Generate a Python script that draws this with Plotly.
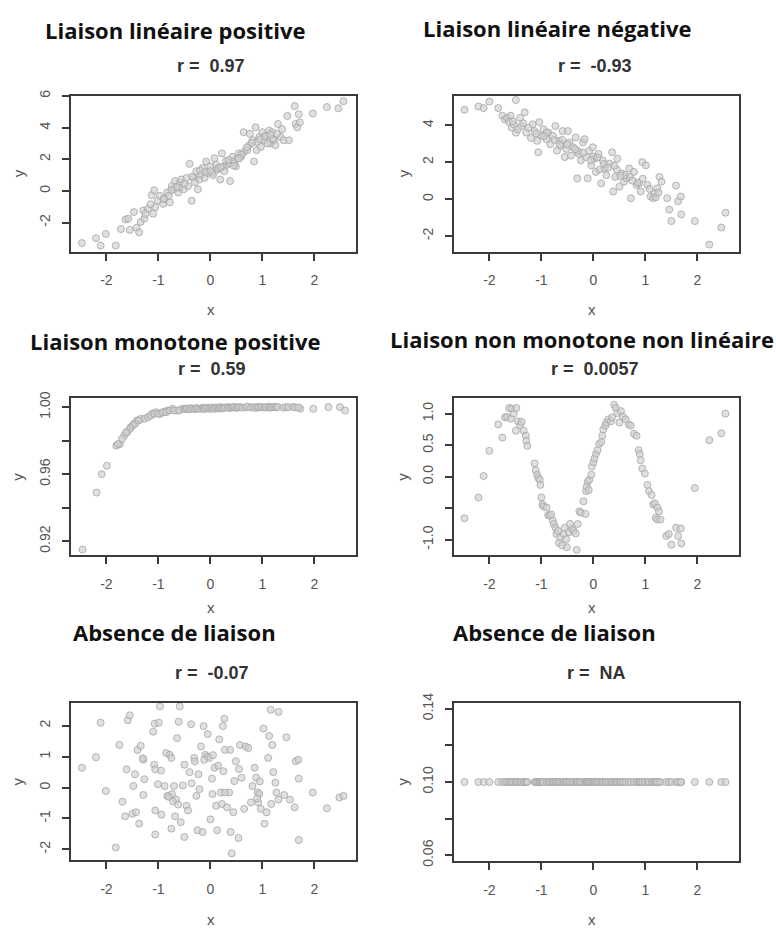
import plotly.graph_objects as go

W, H = 776, 934

# ---------------- data ----------------
# Panel 1 : Liaison linéaire positive
x1 = [-2.47, -2.20, -2.11, -2.01, -1.82, -1.72, -1.63, -1.58, -1.55, -1.47,
      -1.42, -1.37, -1.34, -1.29, -1.27, -1.20, -1.13, -1.08, -1.10, -1.06,
      -1.01, -0.97, -0.91, -0.88, -0.83, -0.78, -0.74, -0.70, -0.68, -0.62,
      -0.59, -0.56, -0.51, -0.46, -0.43, -0.40, -0.36, -0.32, -0.27, -0.24,
      -0.21, -0.18, -0.15, -0.11, -0.08, -0.05, 0.00, 0.04, 0.08, 0.11,
      0.14, 0.19, 0.22, 0.24, 0.27, 0.32, 0.36, 0.38, 0.43, 0.46,
      0.49, 0.52, 0.55, 0.59, 0.64, 0.65, 0.71, 0.76, 0.81, 0.84,
      0.87, 0.89, 0.94, 0.97, 1.00, 1.04, 1.08, 1.13, 1.16, 1.19,
      1.22, 1.25, 1.30, 1.35, 1.41, 1.48, 1.51, 1.62, 1.64, 1.67,
      1.70, 1.72, 1.97, 2.24, 2.46, 2.56, 0.30, 0.60, 0.75, -0.20,
      0.05, 1.10, 1.20, -0.60, -0.90, 0.90, 0.45, -0.35,
      -0.80, -0.65, -0.50, -0.30, -0.10, 0.15, 0.35, 0.55, 0.70, 0.80,
      0.95, 1.05, 1.15, 1.28, 1.38, -1.15, -1.25, -0.75, 0.00, 0.20]
y1 = [-3.30, -2.99, -3.46, -2.72, -3.46, -2.41, -1.81, -1.75, -2.47, -1.34,
      -2.33, -2.62, -1.96, -1.24, -1.75, -1.13, -0.27, 0.04, -1.44, -1.03,
      -0.62, -0.31, -0.82, -0.52, -0.10, -0.72, 0.31, 0.10, 0.62, -0.10,
      0.52, 0.72, 0.10, 0.82, 0.31, 1.71, -0.62, 0.82, 1.24, 0.10,
      0.72, 1.03, 1.44, 0.82, 1.86, 1.13, 1.55, 1.13, 2.06, 1.65,
      1.34, 0.72, 2.37, 1.51, 1.24, 1.65, 1.75, 0.62, 2.16, 1.86,
      1.55, 2.06, 2.37, 2.16, 3.71, 2.47, 2.58, 3.61, 3.20, 1.86,
      4.02, 2.58, 3.40, 2.78, 3.71, 3.20, 3.51, 3.81, 2.99, 3.71,
      3.20, 2.89, 4.23, 3.40, 3.20, 4.74, 3.20, 5.36, 4.23, 4.02,
      4.85, 4.33, 4.89, 5.30, 5.22, 5.67, 1.90, 2.30, 2.90, 1.30,
      1.00, 3.00, 3.30, 0.20, -0.50, 3.10, 1.60, 0.90,
      -0.30, 0.25, 0.45, 0.55, 1.20, 1.45, 1.95, 2.05, 2.75, 3.05,
      3.25, 3.45, 3.55, 3.60, 3.90, -0.85, -1.45, 0.05, 1.25, 1.50]

# Panel 2 : Liaison linéaire négative
x2 = [-2.48, -2.21, -2.11, -2.00, -1.83, -1.49, -1.75, -1.70, -1.66, -1.62,
      -1.59, -1.57, -1.53, -1.49, -1.45, -1.41, -1.38, -1.32, -1.29, -1.24,
      -1.17, -1.13, -1.08, -1.04, -1.06, -1.00, -0.96, -0.90, -0.87, -0.83,
      -0.78, -0.73, -0.70, -0.66, -0.62, -0.59, -0.55, -0.52, -0.49, -0.46,
      -0.43, -0.39, -0.34, -0.31, -0.28, -0.24, -0.20, -0.17, -0.14, -0.11,
      -0.08, -0.04, -0.01, 0.02, 0.05, 0.10, 0.15, 0.18, 0.21, 0.25,
      0.31, 0.36, 0.38, 0.42, 0.46, 0.50, 0.55, 0.59, 0.64, 0.69,
      0.72, 0.78, 0.83, 0.88, 0.91, 0.94, 1.01, 1.04, 1.10, 1.15,
      1.18, 1.23, 1.27, 1.31, 1.42, 1.46, 1.50, 1.59, 1.63, 1.68,
      1.69, 1.95, 2.23, 2.46, 2.54, -0.60, -0.30, 0.00, 0.20, 0.45,
      0.70, -0.90, -1.20, 0.85, 1.20,
      -1.55, -1.35, -1.10, -0.95, -0.75, -0.50, -0.35, -0.20, -0.05, 0.08,
      0.28, 0.40, 0.60, 0.75, 0.95, 1.08, 1.25, -0.65, 0.12, 0.52]
y2 = [4.83, 5.01, 4.92, 5.27, 4.92, 5.36, 4.51, 4.30, 4.39, 4.16,
      4.51, 3.86, 4.04, 3.59, 3.77, 4.39, 3.95, 4.69, 3.59, 3.86,
      4.04, 3.68, 3.15, 4.16, 2.53, 3.42, 3.77, 3.24, 3.59, 2.97,
      3.42, 3.95, 2.62, 3.15, 2.88, 3.68, 2.27, 2.71, 3.68, 3.06,
      2.35, 2.80, 3.33, 1.12, 2.44, 2.09, 3.06, 3.24, 2.27, 1.12,
      2.62, 1.82, 2.80, 2.18, 1.47, 2.44, 0.85, 2.09, 1.65, 1.29,
      1.91, 2.53, 0.41, 1.20, 2.18, 0.67, 1.38, 0.94, 1.12, 1.65,
      0.05, 1.47, 0.76, 0.85, 0.41, 2.00, 1.82, 0.76, 0.14, 0.05,
      0.32, 0.58, 1.20, 0.94, 0.05, -0.57, -1.19, 0.73, -0.12, 0.14,
      -0.83, -1.19, -2.46, -1.54, -0.74, 3.20, 2.60, 2.30, 1.90, 1.60,
      1.20, 3.60, 3.30, 0.90, 0.10,
      4.20, 4.10, 3.55, 3.40, 3.20, 2.95, 2.70, 2.50, 2.10, 2.25,
      1.70, 1.80, 1.30, 1.00, 1.10, 0.55, 0.35, 2.95, 1.60, 1.25]

# Panel 3 : Liaison monotone positive
x3 = [-2.46, -2.19, -2.09, -1.99, -1.81, -1.74, -1.66, -1.60, -1.53, -1.47,
      -1.41, -1.34, -1.27, -1.12, -1.05, -0.96, -0.89, -0.83, -0.73, -0.64,
      -0.54, 1.73, 1.98, 2.27, 2.49, 2.59, -1.20, -1.15, -1.08, -1.00,
      -0.92, -0.85, -0.78, -0.70, -0.60, -0.50, -1.55, -1.50, -1.45, -1.38,
      -1.62, -1.70, -1.78,
      -0.47, -0.45, -0.41, -0.38, -0.34, -0.30, -0.27, -0.24,
      -0.19, -0.15, -0.13, -0.11, -0.08, -0.04, 0.00, 0.02,
      0.05, 0.08, 0.11, 0.15, 0.17, 0.19, 0.23, 0.25,
      0.29, 0.34, 0.36, 0.40, 0.43, 0.46, 0.50, 0.53,
      0.57, 0.62, 0.68, 0.72, 0.78, 0.83, 0.87, 0.91,
      0.94, 0.99, 1.04, 1.07, 1.12, 1.15, 1.18, 1.23,
      1.26, 1.29, 1.40, 1.45, 1.50, 1.59, 1.63, 1.69]
y3 = [0.915, 0.949, 0.960, 0.965, 0.977, 0.978, 0.983, 0.985, 0.988, 0.990,
      0.992, 0.993, 0.993, 0.996, 0.997, 0.996, 0.997, 0.998, 0.999, 0.998,
      0.999, 0.999, 0.999, 1.000, 1.000, 0.998, 0.994, 0.995, 0.996, 0.996,
      0.997, 0.997, 0.998, 0.998, 0.998, 0.999, 0.987, 0.989, 0.990, 0.992,
      0.985, 0.981, 0.978,
      0.9988, 0.9992, 0.9986, 0.9994, 0.9990, 0.9987, 0.9995, 0.9991,
      0.9989, 0.9996, 0.9993, 0.9988, 0.9997, 0.9992, 0.9990, 0.9998,
      0.9994, 0.9989, 0.9999, 0.9995, 0.9991, 1.0000, 0.9996, 0.9993,
      0.9998, 1.0001, 0.9994, 0.9997, 0.9999, 1.0002, 0.9995, 0.9998,
      1.0001, 0.9996, 0.9999, 1.0003, 0.9997, 1.0000, 0.9995, 1.0002,
      0.9998, 1.0001, 0.9997, 1.0000, 1.0003, 0.9996, 0.9999, 1.0002,
      0.9998, 1.0001, 0.9997, 1.0000, 0.9999, 1.0001, 0.9998, 0.9999]

# Panel 4 : Liaison non monotone non linéaire
x4 = [-2.48, -2.21, -2.11, -2.00, -1.83, -1.75, -1.70, -1.66, -1.62, -1.59,
      -1.57, -1.53, -1.49, -1.48, -1.45, -1.41, -1.38, -1.34, -1.30, -1.29,
      -1.27, -1.13, -1.11, -1.08, -1.06, -1.03, -1.02, -1.00, -0.98, -0.96,
      -0.90, -0.87, -0.84, -0.81, -0.78, -0.76, -0.73, -0.71, -0.68, -0.66,
      -0.64, -0.60, -0.57, -0.55, -0.52, -0.51, -0.47, -0.45, -0.41, -0.38,
      -0.34, -0.32, -0.30, -0.27, -0.24, -0.19, -0.15, -0.14, -0.13, -0.11,
      -0.09, -0.08, -0.04, -0.03, 0.00, 0.02, 0.05, 0.08, 0.11, 0.15,
      0.17, 0.19, 0.23, 0.25, 0.29, 0.34, 0.36, 0.40, 0.43, 0.46,
      0.50, 0.53, 0.57, 0.62, 0.68, 0.72, 0.78, 0.83, 0.87, 0.89,
      0.91, 0.94, 0.99, 1.04, 1.07, 1.12, 1.15, 1.18, 1.23, 1.26,
      1.20, 1.23, 1.29, 1.40, 1.45, 1.50, 1.59, 1.63, 1.69, 1.68,
      1.95, 2.23, 2.46, 2.54]
y4 = [-0.66, -0.33, 0.01, 0.41, 0.83, 0.62, 0.94, 0.95, 1.09, 0.92,
      1.08, 1.00, 0.73, 1.09, 0.88, 0.82, 0.87, 0.73, 0.65, 0.57,
      0.49, 0.21, 0.10, 0.03, -0.02, -0.05, -0.13, -0.33, -0.44, -0.47,
      -0.49, -0.61, -0.62, -0.60, -0.70, -0.75, -0.81, -0.91, -0.86, -1.05,
      -0.96, -1.09, -0.91, -0.81, -0.99, -1.12, -0.88, -0.75, -0.83, -0.86,
      -0.90, -1.16, -0.75, -0.55, -0.57, -0.39, -0.59, -0.23, -0.16, -0.08,
      -0.21, -0.05, 0.03, 0.16, 0.23, 0.29, 0.36, 0.42, 0.52, 0.55,
      0.65, 0.75, 0.81, 0.86, 0.91, 0.88, 0.94, 1.14, 1.09, 1.01,
      0.86, 1.04, 0.95, 0.91, 0.83, 0.81, 0.68, 0.65, 0.42, 0.36,
      0.26, 0.13, 0.05, -0.13, -0.23, -0.29, -0.44, -0.42, -0.49, -0.55,
      -0.65, -0.68, -0.68, -0.94, -0.91, -1.08, -0.81, -0.94, -1.06, -0.82,
      -0.18, 0.58, 0.69, 1.00]

# Panel 5 : Absence de liaison (nuage)
x5 = [-2.47, -2.20, -2.11, -2.01, -1.82, -1.75, -1.69, -1.64, -1.59, -1.55,
      -1.61, -1.50, -1.45, -1.43, -1.40, -1.37, -1.34, -1.29, -1.27, -1.29,
      -1.48, -1.10, -1.07, -0.99, -1.08, -1.06, -1.06, -1.06, -0.97, -1.01,
      -0.94, -0.88, -0.85, -0.83, -0.78, -0.75, -0.74, -0.70, -0.68, -0.66,
      -0.75, -0.64, -0.61, -0.59, -0.57, -0.53, -0.50, -0.50, -0.46, -0.43,
      -0.40, -0.37, -0.36, -0.31, -0.27, -0.25, -0.23, -0.21, -0.18, -0.15,
      -0.13, -0.10, -0.06, -0.05, -0.02, 0.00, 0.03, 0.04, 0.08, 0.11,
      0.13, 0.15, 0.17, 0.20, 0.22, 0.24, 0.25, 0.27, 0.28, 0.32,
      0.36, 0.38, 0.39, 0.41, 0.44, 0.46, 0.49, 0.54, 0.57, 0.60,
      0.65, 0.68, 0.73, 0.78, 0.81, 0.85, 0.88, 0.91, 0.92, 0.94,
      0.97, 1.02, 1.04, 1.08, 1.11, 1.13, 1.16, 1.17, 1.19, 1.21,
      1.25, 1.27, 1.31, 1.31, 1.42, 1.46, 1.53, 1.62, 1.64, 1.69,
      1.70, 1.70, 1.97, 2.24, 2.48, 2.56,
      -0.80, -0.72, -0.62, 0.28, -0.30, 0.95, 0.90, -0.95, -1.30, 0.05,
      -0.12, 0.55]
y5 = [0.64, 0.98, 2.10, -0.11, -1.94, 1.38, -0.46, -0.93, 2.18, 2.34,
      0.59, -0.85, 0.43, -0.80, 1.22, -1.17, 1.35, 0.90, 0.27, -0.24,
      0.05, 1.81, 2.07, 2.10, 0.74, 0.59, -0.74, -1.52, 2.63, 0.11,
      -0.88, 0.05, 1.12, -0.27, 1.06, 0.96, -0.21, 0.05, -0.93, -0.39,
      -1.33, 1.60, 2.13, 2.63, -1.12, 0.07, 0.74, -1.60, -0.59, -0.74,
      0.50, 2.05, 0.14, 0.96, -0.27, -1.38, 0.43, -0.05, 1.33, -1.44,
      1.99, 1.06, 1.01, 1.73, 0.96, -1.03, 0.29, -0.21, 0.64, -0.59,
      -1.38, 0.71, 1.56, -0.16, -0.53, 1.99, 0.53, 2.23, 1.22, -0.64,
      -0.16, 1.22, -1.44, -2.13, -0.80, 0.21, 0.85, -1.63, 1.38, 0.32,
      -0.69, 1.33, 1.28, -0.48, 0.05, 0.64, 0.32, -0.16, -0.48, -0.21,
      -0.69, 1.91, -1.17, -0.80, 0.96, 1.67, 2.52, -0.53, 1.38, 0.50,
      0.16, -0.16, 2.45, -0.39, -0.24, 1.63, -0.39, -0.64, 0.85, 0.90,
      0.29, -1.70, -0.16, -0.67, -0.32, -0.27,
      -0.30, -0.45, -0.55, -0.16, 0.85, 0.20, -0.35, 0.55, 0.95, 1.05,
      0.90, 0.60]

# Panel 6 : Absence de liaison (y constant)
x6 = list(x4)
y6 = [0.10] * len(x6)

main_titles = ["Liaison linéaire positive", "Liaison linéaire négative",
               "Liaison monotone positive", "Liaison non monotone non linéaire",
               "Absence de liaison", "Absence de liaison"]
r_labels = ["r =  0.97", "r =  -0.93", "r =  0.59", "r =  0.0057",
            "r =  -0.07", "r =  NA"]

x_ticks = [-2, -1, 0, 1, 2]
x_ticktext = ["-2", "-1", "0", "1", "2"]
y_ticks = [[-2, 0, 2, 4, 6], [-2, 0, 2, 4],
           [0.92, 0.94, 0.96, 0.98, 1.00], [-1.0, -0.5, 0.0, 0.5, 1.0],
           [-2, -1, 0, 1, 2], [0.06, 0.08, 0.10, 0.12, 0.14]]
y_ticktext = [["-2", "0", "2", "4", "6"], ["-2", "0", "2", "4"],
              ["0.92", "", "0.96", "", "1.00"], ["-1.0", "", "0.0", "0.5", "1.0"],
              ["-2", "-1", "0", "1", "2"], ["0.06", "", "0.10", "", "0.14"]]

# ---------------- layout geometry (pixels) ----------------
boxes = [(71, 356, 87, 246), (454, 739, 87, 246),
         (71, 356, 395, 555), (454, 739, 395, 555),
         (71, 356, 705, 865), (454, 739, 705, 866)]
x_range = [-2.68, 2.80]
y_ranges = [[-3.85, 6.03], [-2.85, 5.60], [0.9115, 1.0053],
            [-1.25, 1.245], [-2.35, 2.74], [0.0568, 0.1432]]
title_pos = [(175, 20), (557, 18), (175, 337), (582, 335), (174, 633), (554, 633)]
r_pos = [(211, 57), (595, 57), (212, 365), (595, 365), (212, 675), (596, 675)]
xlab_pos = [(211, 305), (592, 305), (211, 608), (592, 608), (211, 925), (592, 925)]
ylab_pos = [(18, 166), (403, 166), (18, 475), (403, 475), (18, 785), (403, 785)]

xs = [x1, x2, x3, x4, x5, x6]
ys = [y1, y2, y3, y4, y5, y6]

fig = go.Figure()
axis_common = dict(showline=True, mirror=True, linecolor="#3a3a3a", linewidth=1.6,
                   ticks="outside", ticklen=7, tickwidth=1.5, tickcolor="#3a3a3a",
                   showgrid=False, zeroline=False, tickmode="array",
                   tickfont=dict(family="Liberation Sans, Arial, sans-serif",
                                 size=14, color="#555555"))
annotations = []
for i in range(6):
    n = i + 1
    xa = "x" if n == 1 else f"x{n}"
    ya = "y" if n == 1 else f"y{n}"
    fig.add_trace(go.Scatter(
        x=xs[i], y=ys[i], mode="markers", xaxis=xa, yaxis=ya, showlegend=False,
        marker=dict(size=7, color="rgba(208,208,208,0.65)",
                    line=dict(color="rgba(165,165,165,0.8)", width=1)),
        hoverinfo="skip"))
    l, r, t, b = boxes[i]
    xkey = "xaxis" if n == 1 else f"xaxis{n}"
    ykey = "yaxis" if n == 1 else f"yaxis{n}"
    fig.layout[xkey] = dict(axis_common, domain=[l / W, r / W], range=x_range,
                            anchor=ya, tickvals=x_ticks, ticktext=x_ticktext,
                            ticklabelstandoff=8)
    fig.layout[ykey] = dict(axis_common, domain=[1 - b / H, 1 - t / H],
                            range=y_ranges[i], anchor=xa, tickvals=y_ticks[i],
                            ticktext=y_ticktext[i], tickangle=-90,
                            ticklabelstandoff=7)
    tx, ty = title_pos[i]
    annotations.append(dict(text=main_titles[i], x=tx / W, y=1 - ty / H,
                            xref="paper", yref="paper", showarrow=False,
                            xanchor="center", yanchor="middle",
                            font=dict(family="Open Sans, Noto Sans, sans-serif",
                                      size=22, color="#111111", weight="bold")))
    rx, ry = r_pos[i]
    annotations.append(dict(text=r_labels[i], x=rx / W, y=1 - ry / H,
                            xref="paper", yref="paper", showarrow=False,
                            xanchor="center", yanchor="middle",
                            font=dict(family="Liberation Sans, Arial, sans-serif",
                                      size=18, color="#333333", weight="bold")))
    lx, ly = xlab_pos[i]
    annotations.append(dict(text="x", x=lx / W, y=1 - ly / H, xref="paper",
                            yref="paper", showarrow=False, xanchor="center",
                            yanchor="middle",
                            font=dict(family="Liberation Sans, Arial, sans-serif",
                                      size=15, color="#555555")))
    yx, yy = ylab_pos[i]
    annotations.append(dict(text="y", x=yx / W, y=1 - yy / H, xref="paper",
                            yref="paper", showarrow=False, xanchor="center",
                            yanchor="middle", textangle=-90,
                            font=dict(family="Liberation Sans, Arial, sans-serif",
                                      size=15, color="#555555")))

fig.update_layout(width=W, height=H, margin=dict(l=0, r=0, t=0, b=0),
                  paper_bgcolor="white", plot_bgcolor="white",
                  annotations=annotations, showlegend=False)

fig.write_html("out.html", config={"displayModeBar": False},
               post_script="document.body.style.margin='0';")
